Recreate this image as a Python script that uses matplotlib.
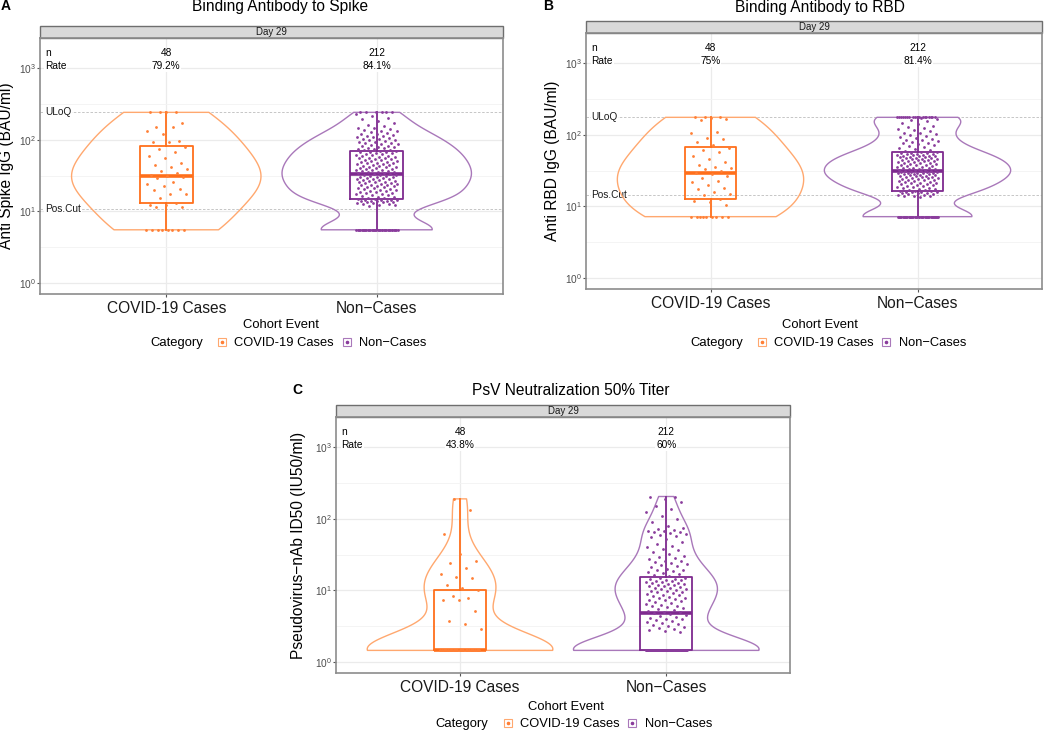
import numpy as np
import matplotlib.pyplot as plt
from matplotlib import cbook
from matplotlib.patches import Rectangle
from matplotlib.lines import Line2D
from matplotlib.legend_handler import HandlerTuple
from matplotlib.ticker import FixedLocator, NullFormatter
from matplotlib.transforms import blended_transform_factory

plt.rcParams['font.family'] = ['Liberation Sans', 'DejaVu Sans']
plt.rcParams['mathtext.fontset'] = 'custom'
plt.rcParams['mathtext.rm'] = 'Liberation Sans'

W, H = 1050, 732

groups = ['COVID-19 Cases', 'Non\u2212Cases']
n_labels = ['48', '212']

# panel A: binding antibody to spike, BAU/ml
spike_cases = [5.5] * 8 + [
    11.4, 11.5, 12.2, 12.4, 13.2, 15.5, 17.3, 17.3, 19.9, 20.8, 22.8, 24, 26, 29.5, 30.5, 31,
    32, 34, 37, 39, 41, 44, 48, 55, 60, 68, 75, 78,
    92, 93, 96, 120, 131, 149, 151, 169] + [242] * 4
spike_noncases = [5.5] * 34 + [
    12.0, 12.2, 12.4, 12.6, 12.8, 13.0, 13.1, 13.3, 13.5, 13.6, 13.8, 13.9, 14.0, 14.1, 14.2,
    14.3, 14.4, 14.5, 14.7, 14.9,
    15.2, 15.5, 15.8, 16.0, 16.3, 16.7, 17.0, 17.2, 17.5, 17.9, 18.2, 18.5, 18.8, 19.0, 19.4,
    19.7, 20.0, 20.3, 20.6, 21.0, 21.3, 21.6, 22.0, 22.3, 22.6, 23.0, 23.3, 23.6, 24.0, 24.3,
    24.7, 25.0, 25.3, 25.7, 26.0, 26.4, 26.8, 27.1, 27.5, 27.9, 28.2, 28.6, 29.0, 29.4, 29.8,
    30.2, 30.6, 31.0, 31.4, 31.8, 32.1, 32.5, 33.3,
    33.6, 34.0, 34.5, 35.0, 35.4, 35.9, 36.3, 36.8, 37.3, 37.8, 38.3, 38.8, 39.3, 39.9, 40.4,
    41.0, 41.6, 42.2, 42.8, 43.4, 44.0, 44.6, 45.3, 46.0, 46.6, 47.3, 48.0, 48.7, 49.4, 50.1,
    50.9, 51.6, 52.4, 53.2, 54.0, 54.8, 55.6, 56.4, 57.3, 58.1, 59.0, 59.9, 60.8, 61.7, 62.6,
    63.5, 64.5, 65.5, 66.5, 67.5, 68.5, 69.0, 70.5,
    71.5, 72.5, 74, 75, 76, 77.5, 79, 80, 81.5, 83, 84.5, 86, 87.5, 89, 90.5, 92, 94, 96, 98,
    100, 102, 104, 106, 108, 110, 112, 114.5, 117, 119.5, 122, 125, 128, 131, 134, 137, 140,
    144, 148, 155, 163, 172, 182, 193, 205, 218, 232] + [242] * 6
spike_rate = ['79.2%', '84.1%']
spike_refs = [('ULoQ', 242), ('Pos.Cut', 10.9)]

# panel B: binding antibody to RBD, BAU/ml
rbd_cases = [7.2] * 9 + [
    10.5, 11.6, 12.0, 12.7, 14.5, 15.0, 16.0, 17.5, 18.0, 20.0, 22.0, 23.0, 25.0, 27.0, 28.5,
    29.5, 31, 33, 34, 36, 38, 42, 46, 50, 58, 62, 65,
    72, 80, 88, 90, 105, 110, 160, 165, 170] + [176] * 3
rbd_noncases = [7.2] * 36 + [
    13.5, 13.9, 14.0, 14.2,
    14.4, 14.6, 14.8, 15.0, 15.2, 15.4, 15.6, 15.8, 15.9, 16.0, 16.1, 16.2, 16.4, 16.6,
    16.8, 17.1, 17.4, 17.7, 18.0, 18.3, 18.6, 18.9, 19.2, 19.5, 19.8, 20.1, 20.4, 20.7, 21.0,
    21.3, 21.6, 21.9, 22.2, 22.5, 22.8, 23.1, 23.4, 23.7, 24.0, 24.3, 24.6, 24.9, 25.2, 25.5,
    25.8, 26.1, 26.4, 26.7, 27.0, 27.3, 27.6, 27.9, 28.2, 28.5, 28.8, 29.0, 29.2, 29.4, 29.6,
    29.8, 30.0, 30.2, 30.4, 30.6, 30.8, 31.0, 31.4,
    31.8, 32.2, 32.6, 33.0, 33.4, 33.8, 34.2, 34.6, 35.0, 35.5, 36.0, 36.5, 37.0, 37.5, 38.0,
    38.5, 39.0, 39.5, 40.0, 40.5, 41.0, 41.5, 42.0, 42.5, 43.0, 43.5, 44.0, 44.5, 45.0, 45.5,
    46.0, 46.5, 47.0, 47.5, 48.0, 48.5, 49.0, 49.5, 50.0, 50.5, 51.0, 51.5, 52.0, 52.5, 53.0,
    53.5, 54.0, 54.5, 55.0, 55.5, 56.2, 57.0, 58.5,
    60, 62, 64, 66, 68, 70, 72, 74, 76, 78, 80, 82, 84, 86, 88, 90, 93, 96, 99, 102,
    105, 108, 112, 116, 120, 125, 130, 135, 140, 148, 155, 162, 168, 172] + [176] * 18
rbd_rate = ['75%', '81.4%']
rbd_refs = [('ULoQ', 176), ('Pos.Cut', 14.3)]

# panel C: pseudovirus neutralization ID50, IU50/ml
psv_cases = [1.44] * 27 + [
    2.9, 3.4, 3.7, 5.1, 7.2, 7.4, 7.9, 8.3, 10.0,
    10.8, 12.0, 14.8, 15.1, 16.7, 20.4, 24, 26, 32, 62, 134, 190]
psv_noncases = [1.44] * 85 + [
    2.6, 2.7, 2.8, 2.9, 3.0, 3.1, 3.2, 3.3, 3.4, 3.5, 3.6, 3.7, 3.8, 3.9, 4.0, 4.1, 4.2, 4.4,
    4.5, 4.6, 4.8, 4.9,
    5.0, 5.2, 5.3, 5.5, 5.6, 5.8, 6.0, 6.1, 6.3, 6.5, 6.6, 6.8, 7.0, 7.2, 7.3, 7.5, 7.7, 7.9,
    8.1, 8.3, 8.5, 8.7, 8.9, 9.1, 9.3, 9.5, 9.7, 9.9, 10.1, 10.3, 10.5, 10.7, 10.9, 11.1, 11.3,
    11.5, 11.7, 11.9, 12.1, 12.3, 12.5, 12.7, 12.9, 13.1, 13.3, 13.5, 13.7, 13.9, 14.2, 14.5,
    14.8, 15.0, 16.0,
    16.5, 17, 17.5, 18, 18.5, 19, 19.5, 20, 21, 22, 22.5, 23, 24, 25, 25.5, 26, 27, 28, 29, 30,
    32, 34, 36, 38, 40, 42, 45, 48, 52, 55, 58, 60, 62, 63, 65, 66, 67, 68, 70, 72,
    75, 80, 90, 100, 110, 125, 135, 150, 170, 190, 200, 205]
psv_rate = ['43.8%', '60%']

box_colors = ['#FF6F1B', '#7E2A8F']
violin_colors = ['#FFA86F', '#A978BA']
point_colors = ['#FF7F35', '#8A3C9C']


def nrd0(x):
    sd = np.std(x, ddof=1)
    iqr = np.subtract(*np.percentile(x, [75, 25]))
    lo = min(sd, iqr / 1.34)
    if lo == 0:
        lo = sd
    return 0.9 * lo * len(x) ** -0.2


def violin_stats(values, adjust=1.0):
    # density on the log10 scale, trimmed to the data range (as ggplot does)
    lx = np.log10(values)
    bw = nrd0(lx) * adjust
    grid = np.linspace(lx.min(), lx.max(), 400)
    dens = np.exp(-0.5 * ((grid[:, None] - lx[None, :]) / bw) ** 2).sum(axis=1)
    return dict(coords=10 ** grid, vals=dens, mean=np.mean(values),
                median=np.median(values), min=np.min(values), max=np.max(values))


def px(x, y):
    return x / W, 1 - y / H


fig = plt.figure(figsize=(W / 100, H / 100), dpi=100)


def draw_panel(frame, data, rates, refs, title, ylabel, spots, adjust=(1.0, 1.0)):
    left, top, right, bottom = frame
    ax = fig.add_axes([left / W, 1 - bottom / H, (right - left) / W, (bottom - top) / H])
    ax.set_yscale('log')
    ax.set_xlim(0.4, 2.6)
    ax.set_ylim(10 ** -0.158, 10 ** 3.42)

    ax.set_yticks([1, 10, 100, 1000])
    ax.set_yticklabels([r'$10^{0}$', r'$10^{1}$', r'$10^{2}$', r'$10^{3}$'])
    ax.yaxis.set_minor_locator(FixedLocator(10 ** np.array([0.5, 1.5, 2.5])))
    ax.yaxis.set_minor_formatter(NullFormatter())
    ax.set_xticks([1, 2])
    ax.set_xticklabels(groups)
    ax.tick_params(which='minor', length=0)
    ax.tick_params(axis='y', which='major', length=2, width=0.8, color='#555555',
                   labelsize=7.3, labelcolor='#4D4D4D', pad=1)
    ax.tick_params(axis='x', which='major', length=2, width=0.8, color='#555555',
                   labelsize=11.2, labelcolor='#1A1A1A', pad=3)
    ax.grid(True, which='major', color='#EBEBEB', lw=0.9)
    ax.grid(True, which='minor', axis='y', color='#F3F3F3', lw=0.6)
    ax.set_axisbelow(True)
    for sp in ax.spines.values():
        sp.set_color('#8C8C8C')
        sp.set_linewidth(1.2)

    trans = blended_transform_factory(ax.transAxes, ax.transData)
    for name, val in refs:
        ax.axhline(val, color='#BDBDBD', lw=0.6, ls=(0, (3, 2)), zorder=1)
        ax.text(0.011, val, name, transform=trans, ha='left', va='center', fontsize=7.3,
                color='#1A1A1A', zorder=2,
                bbox=dict(facecolor='white', edgecolor='none', pad=0.5))

    vp = ax.violin([violin_stats(v, a) for v, a in zip(data, adjust)], positions=[1, 2],
                   widths=0.9, showextrema=False)
    for body, c in zip(vp['bodies'], violin_colors):
        body.set_alpha(1)
        body.set_facecolor('none')
        body.set_edgecolor(c)
        body.set_linewidth(1.0)
        body.set_zorder(2)

    for i, v in enumerate(data):
        st = cbook.boxplot_stats(np.log10(v), whis=1.5)[0]
        for k in ('med', 'q1', 'q3', 'whislo', 'whishi', 'mean', 'cilo', 'cihi'):
            st[k] = 10 ** st[k]
        st['fliers'] = []
        c = box_colors[i]
        ax.bxp([st], positions=[i + 1], widths=0.25, showfliers=False, showcaps=False,
               manage_ticks=False,
               boxprops=dict(color=c, lw=1.3), whiskerprops=dict(color=c, lw=1.3),
               medianprops=dict(color=c, lw=2.6, solid_capstyle='butt'), zorder=3)
        v = np.sort(np.asarray(v))
        jit = ((np.arange(len(v)) * 0.618034 + 0.31) % 1 - 0.5) * 0.2
        ax.scatter(i + 1 + jit, v, s=4, color=point_colors[i], linewidths=0, zorder=4)

    ax.text(0.011, 10 ** 3.21, 'n', transform=trans, ha='left', va='center', fontsize=7.3,
            bbox=dict(facecolor='white', edgecolor='none', pad=0.5))
    ax.text(0.011, 10 ** 3.035, 'Rate', transform=trans, ha='left', va='center', fontsize=7.3,
            bbox=dict(facecolor='white', edgecolor='none', pad=0.5))
    for i in range(2):
        ax.text(i + 1, 10 ** 3.21, n_labels[i], ha='center', va='center', fontsize=7.3,
                bbox=dict(facecolor='white', edgecolor='none', pad=0.5))
        ax.text(i + 1, 10 ** 3.035, rates[i], ha='center', va='center', fontsize=7.3,
                bbox=dict(facecolor='white', edgecolor='none', pad=0.5))

    # facet strip
    sh = 12 / (bottom - top)
    ax.add_patch(Rectangle((0, 1), 1, sh, transform=ax.transAxes, clip_on=False,
                           facecolor='#D9D9D9', edgecolor='#6E6E6E', lw=1.0))
    ax.text(0.5, 1 + sh / 2, 'Day 29', transform=ax.transAxes, ha='center', va='center',
            fontsize=7, color='#1A1A1A')

    fig.text(*px(*spots['letter']), spots['tag'], fontsize=10, fontweight='bold',
             ha='center', va='center')
    fig.text(*px(*spots['title']), title, fontsize=11.2, ha='center', va='baseline')
    fig.text(*px(spots['ylab'], (top + bottom) / 2), ylabel, fontsize=11.2, rotation=90,
             ha='center', va='center')
    fig.text(*px(*spots['cohort']), 'Cohort Event', fontsize=9.4, ha='center', va='center')
    fig.text(*px(*spots['category']), 'Category', fontsize=9.4, ha='left', va='center')

    handles = []
    for i in range(2):
        sq = Line2D([], [], ls='none', marker='s', markersize=6, markerfacecolor='none',
                    markeredgecolor=violin_colors[i], markeredgewidth=0.8)
        dot = Line2D([], [], ls='none', marker='o', markersize=1.6, color=point_colors[i])
        handles.append((sq, dot))
    fig.legend(handles, groups, handler_map={tuple: HandlerTuple(ndivide=1)}, ncol=2,
               frameon=False, loc='center left', bbox_to_anchor=px(*spots['legend']),
               fontsize=9.3, handlelength=0.7, handletextpad=0.6, columnspacing=0.65,
               borderaxespad=0, borderpad=0)
    return ax


draw_panel((40, 38.3, 503, 294), [spike_cases, spike_noncases], spike_rate, spike_refs,
           'Binding Antibody to Spike', 'Anti Spike IgG (BAU/ml)',
           dict(tag='A', letter=(6, 6.5), title=(280.5, 11), ylab=7, cohort=(281, 325.3),
                category=(150, 343.3), legend=(217.5, 343.3)),
           adjust=(1.4, 1.0))
draw_panel((586.3, 33.3, 1041.7, 289.3), [rbd_cases, rbd_noncases], rbd_rate, rbd_refs,
           'Binding Antibody to RBD', 'Anti RBD IgG (BAU/ml)',
           dict(tag='B', letter=(548, 6.5), title=(819.7, 12), ylab=552, cohort=(819.8, 325.3),
                category=(690, 343.3), legend=(757, 343.3)),
           adjust=(1.4, 1.0))
draw_panel((336.3, 417.3, 790, 673), [psv_cases, psv_noncases], psv_rate, [],
           'PsV Neutralization 50% Titer', 'Pseudovirus\u2212nAb ID50 (IU50/ml)',
           dict(tag='C', letter=(297, 390), title=(571, 395), ylab=299, cohort=(566.3, 707.3),
                category=(435.7, 724.3), legend=(503, 724.3)))

fig.savefig('out.png', dpi=100)
